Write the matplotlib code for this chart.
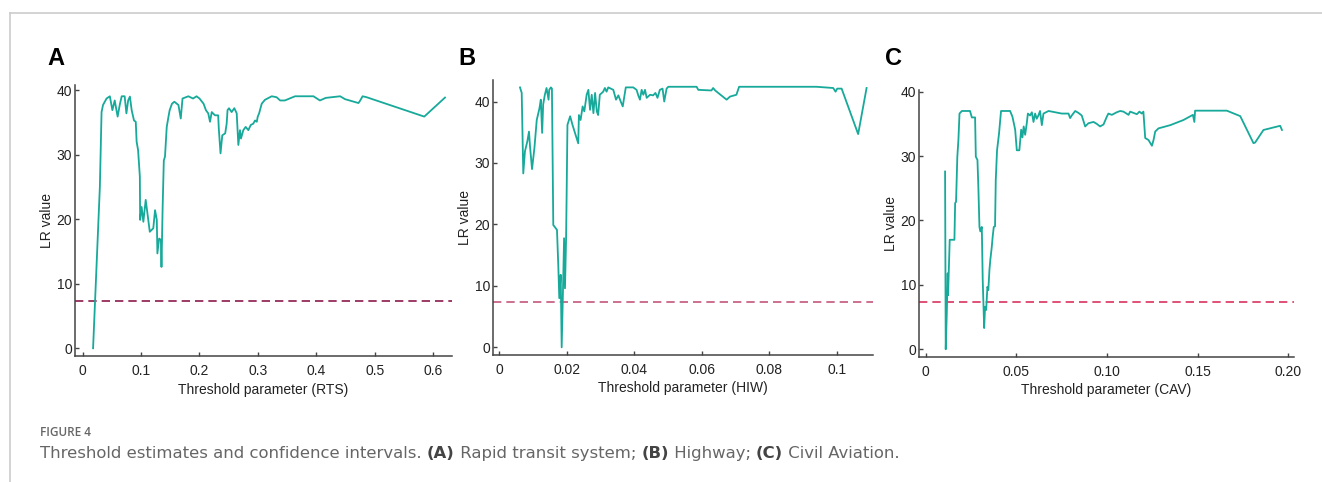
import numpy as np
import matplotlib
matplotlib.use('Agg')
import matplotlib.pyplot as plt
from matplotlib.lines import Line2D
from matplotlib.text import Annotation

plt.rc('font', family='Liberation Sans', size=10)

# Panel A: rapid transit system (RTS)
rts_x = [0.018, 0.0296, 0.0325, 0.035, 0.041, 0.0467, 0.051, 0.055, 0.060, 0.064, 0.067,
         0.072, 0.075, 0.078, 0.081, 0.084, 0.088, 0.091, 0.0925, 0.095, 0.098, 0.0985,
         0.101, 0.104, 0.108, 0.111, 0.115, 0.121, 0.124, 0.127, 0.128, 0.131, 0.134,
         0.135, 0.137, 0.139, 0.141, 0.144, 0.147, 0.149, 0.153, 0.157, 0.164, 0.168,
         0.171, 0.181, 0.189, 0.195, 0.200, 0.207, 0.211, 0.215, 0.218, 0.221, 0.2265,
         0.232, 0.233, 0.236, 0.239, 0.244, 0.2465, 0.248, 0.2505, 0.255, 0.2596, 0.2637,
         0.2665, 0.2693, 0.271, 0.275, 0.279, 0.2836, 0.2877, 0.292, 0.295, 0.298, 0.2997,
         0.302, 0.3065, 0.312, 0.3236, 0.332, 0.338, 0.346, 0.3635, 0.395, 0.406, 0.416,
         0.4406, 0.449, 0.472, 0.475, 0.479, 0.486, 0.5845, 0.620]
rts_lr = [0.0, 25.0, 36.6, 37.7, 38.7, 39.05, 36.9, 38.4, 35.9, 37.9, 39.05,
          39.05, 36.4, 38.4, 39.0, 36.9, 35.3, 35.1, 32.0, 30.7, 26.6, 19.9,
          21.9, 19.6, 23.0, 20.9, 18.05, 18.6, 21.4, 19.9, 14.7, 17.0, 16.8,
          12.6, 21.9, 29.1, 29.7, 34.3, 35.9, 36.9, 37.9, 38.2, 37.7, 35.6,
          38.7, 39.05, 38.7, 39.05, 38.7, 37.9, 36.9, 36.4, 35.1, 36.6, 36.1,
          36.1, 34.1, 30.2, 33.0, 33.3, 34.8, 36.9, 37.2, 36.6, 37.2, 36.4,
          31.5, 33.8, 32.5, 33.8, 34.3, 33.8, 34.6, 34.8, 35.3, 35.1, 35.9,
          36.4, 37.9, 38.5, 39.05, 38.9, 38.4, 38.4, 39.05, 39.05, 38.4, 38.8,
          39.05, 38.6, 38.0, 38.4, 39.05, 38.9, 35.9, 38.85]

# Panel B: highway (HIW)
hiw_x = [0.00613, 0.00664, 0.0071, 0.0076, 0.0083, 0.0088, 0.0091, 0.0097, 0.0104, 0.0111,
         0.0119, 0.0123, 0.0127, 0.0130, 0.0135, 0.0140, 0.0146, 0.0148, 0.0153, 0.0156,
         0.0160, 0.0167, 0.0171, 0.0175, 0.01778, 0.0182, 0.01849, 0.01887, 0.0192, 0.01947,
         0.0198, 0.01997, 0.0202, 0.0210, 0.0217, 0.0226, 0.0234, 0.0236, 0.0241, 0.0247,
         0.0252, 0.0259, 0.0264, 0.0269, 0.0274, 0.0279, 0.0284, 0.0289, 0.0293, 0.0298,
         0.0308, 0.0313, 0.0318, 0.0323, 0.0338, 0.0346, 0.0353, 0.0360, 0.0366, 0.0370,
         0.0375, 0.0397, 0.0407, 0.0412, 0.0417, 0.0422, 0.0427, 0.0432, 0.0437, 0.0447,
         0.0456, 0.0463, 0.0469, 0.0476, 0.0484, 0.0489, 0.0496, 0.0501, 0.0585, 0.0590,
         0.0629, 0.0634, 0.0640, 0.0674, 0.0684, 0.0703, 0.0711, 0.0940, 0.0990, 0.0997,
         0.1002, 0.1015, 0.1064, 0.1089]
hiw_lr = [42.3, 41.4, 28.3, 31.9, 33.5, 35.1, 32.7, 29.0, 32.4, 37.0,
          38.9, 40.3, 34.9, 39.5, 41.1, 42.2, 40.3, 41.9, 42.3, 42.1,
          19.9, 19.4, 19.1, 13.1, 8.0, 11.8, 0.0, 9.1, 17.75, 9.6,
          17.75, 25.3, 36.2, 37.6, 36.2, 34.6, 33.2, 37.8, 37.0, 39.2,
          38.4, 41.1, 41.9, 38.65, 41.1, 38.1, 41.4, 38.4, 37.8, 41.1,
          41.6, 42.2, 41.6, 42.3, 41.9, 40.3, 41.0, 40.0, 39.2, 40.6,
          42.3, 42.3, 41.9, 41.0, 40.3, 41.9, 41.1, 41.9, 40.6, 41.1,
          41.0, 41.4, 40.6, 41.9, 42.1, 40.0, 42.1, 42.4, 42.4, 41.9,
          41.8, 42.2, 41.8, 40.3, 40.8, 41.1, 42.4, 42.4, 42.2, 41.6,
          42.1, 42.1, 34.7, 42.2]

# Panel C: civil aviation (CAV)
cav_x = [0.01065, 0.0110, 0.0116, 0.0121, 0.0123, 0.0132, 0.0158, 0.0162, 0.0167, 0.0174,
         0.0180, 0.0186, 0.0199, 0.0244, 0.0254, 0.0272, 0.0276, 0.0285, 0.0290, 0.0296,
         0.0301, 0.0309, 0.0314, 0.0322, 0.0327, 0.0333, 0.0340, 0.0345, 0.0351, 0.0356,
         0.0364, 0.0369, 0.0375, 0.0382, 0.0386, 0.0393, 0.0404, 0.0415, 0.0465, 0.0478,
         0.0493, 0.0502, 0.0516, 0.0526, 0.0533, 0.0540, 0.0548, 0.0557, 0.0563, 0.0575,
         0.0585, 0.0594, 0.0603, 0.0612, 0.0621, 0.0630, 0.0640, 0.0649, 0.0677, 0.0750,
         0.0787, 0.0796, 0.0805, 0.0824, 0.0842, 0.0860, 0.0879, 0.0897, 0.0925, 0.0943,
         0.0961, 0.0980, 0.0998, 0.1007, 0.1026, 0.1053, 0.1072, 0.1090, 0.1118, 0.1127,
         0.1164, 0.1178, 0.1191, 0.1200, 0.1210, 0.1228, 0.1247, 0.1256, 0.1265, 0.1283,
         0.1348, 0.1421, 0.1473, 0.1481, 0.1485, 0.1660, 0.1734, 0.1807, 0.1816, 0.1862,
         0.1954, 0.1964]
cav_lr = [27.6, 0.0, 5.6, 11.8, 8.4, 17.0, 17.0, 22.7, 22.9, 29.9,
          32.5, 36.6, 37.0, 37.0, 36.0, 36.0, 29.9, 29.4, 25.2, 19.0,
          18.3, 19.0, 10.8, 3.3, 6.6, 6.1, 9.7, 9.2, 12.3, 13.9,
          15.9, 17.5, 19.0, 19.1, 26.3, 30.9, 33.5, 37.0, 37.0, 36.1,
          34.1, 30.9, 30.9, 34.1, 32.9, 34.6, 33.3, 35.1, 36.6, 36.3,
          36.8, 35.3, 36.6, 35.8, 36.3, 37.0, 34.8, 36.6, 37.0, 36.6,
          36.6, 35.9, 36.3, 37.0, 36.7, 36.3, 34.6, 35.1, 35.3, 35.0,
          34.6, 34.9, 36.1, 36.6, 36.4, 36.8, 37.0, 36.9, 36.4, 36.9,
          36.5, 36.9, 36.6, 36.9, 32.8, 32.5, 31.6, 32.5, 33.8, 34.3,
          34.8, 35.6, 36.4, 35.3, 37.05, 37.05, 36.2, 32.0, 32.1, 34.05,
          34.7, 34.05]

critical_value = 7.35

panels = [
    dict(tag='A', x=rts_x, y=rts_lr, xlabel='Threshold parameter (RTS)',
         xticks=[0, 0.1, 0.2, 0.3, 0.4, 0.5, 0.6],
         xticklabels=['0', '0.1', '0.2', '0.3', '0.4', '0.5', '0.6'],
         xlim=(-0.013, 0.6315), ylim=(-1.2, 40.8), yticks=[0, 10, 20, 30, 40],
         rect=[0.0567, 0.2614, 0.285, 0.5623], dash='#8b1a4b', tagx=47),
    dict(tag='B', x=hiw_x, y=hiw_lr, xlabel='Threshold parameter (HIW)',
         xticks=[0, 0.02, 0.04, 0.06, 0.08, 0.1],
         xticklabels=['0', '0.02', '0.04', '0.06', '0.08', '0.1'],
         xlim=(-0.00196, 0.1107), ylim=(-1.25, 43.5), yticks=[0, 10, 20, 30, 40],
         rect=[0.3727, 0.2635, 0.2874, 0.5705], dash='#c4567a', tagx=458),
    dict(tag='C', x=cav_x, y=cav_lr, xlabel='Threshold parameter (CAV)',
         xticks=[0, 0.05, 0.10, 0.15, 0.20],
         xticklabels=['0', '0.05', '0.10', '0.15', '0.20'],
         xlim=(-0.0037, 0.2031), ylim=(-1.15, 40.26), yticks=[0, 10, 20, 30, 40],
         rect=[0.6952, 0.26, 0.2837, 0.5533], dash='#d9325e', tagx=885),
]

W, H = 1322, 482
fig = plt.figure(figsize=(W / 100, H / 100), dpi=100)

for p in panels:
    ax = fig.add_axes(p['rect'])
    ax.plot(p['x'], p['y'], color='#17a99a', lw=1.3, zorder=3)
    ax.axhline(critical_value, color=p['dash'], lw=1.2, ls=(0, (5, 3)), zorder=2)
    ax.set_xlim(p['xlim'])
    ax.set_ylim(p['ylim'])
    ax.set_xticks(p['xticks'])
    ax.set_xticklabels(p['xticklabels'])
    ax.set_yticks(p['yticks'])
    for s in ['top', 'right']:
        ax.spines[s].set_visible(False)
    for s in ['left', 'bottom']:
        ax.spines[s].set_color('#444444')
        ax.spines[s].set_linewidth(1.1)
    ax.tick_params(direction='in', length=3, width=1, color='#444444',
                   labelcolor='#222222', labelsize=10)
    ax.tick_params(axis='x', pad=6)
    ax.tick_params(axis='y', pad=2)
    ax.set_xlabel(p['xlabel'], fontsize=10, color='#222222', labelpad=3)
    ax.set_ylabel('LR value', fontsize=10, color='#222222', labelpad=2)
    fig.text(p['tagx'] / W, 1 - 65 / H, p['tag'], fontsize=17, fontweight='bold',
             ha='left', va='baseline')

# page frame
fig.add_artist(Line2D([10 / W, 1.0], [1 - 12.5 / H] * 2, color='#cccccc', lw=1.2))
fig.add_artist(Line2D([10 / W] * 2, [0, 1 - 12.5 / H], color='#cccccc', lw=1.2))

# caption
fig.text(40 / W, 1 - 433 / H, 'FIGURE 4', fontsize=8.5, color='#666666',
         family='Open Sans', fontweight='semibold', va='center')
pieces = [('Threshold estimates and confidence intervals. ', 'normal'),
          ('(A)', 'bold'), (' Rapid transit system; ', 'normal'),
          ('(B)', 'bold'), (' Highway; ', 'normal'),
          ('(C)', 'bold'), (' Civil Aviation.', 'normal')]
last = None
for txt, wt in pieces:
    col = '#444444' if wt == 'bold' else '#666666'
    if last is None:
        t = fig.text(40 / W, 1 - 461 / H, txt, fontsize=11.85, color=col,
                     family='DejaVu Sans', fontweight=wt, va='bottom')
    else:
        t = Annotation(txt, xy=(1, 0), xycoords=last, fontsize=11.85, color=col,
                       family='DejaVu Sans', fontweight=wt, va='bottom', ha='left',
                       annotation_clip=False)
        fig.add_artist(t)
    last = t

fig.savefig('out.png', dpi=100)
